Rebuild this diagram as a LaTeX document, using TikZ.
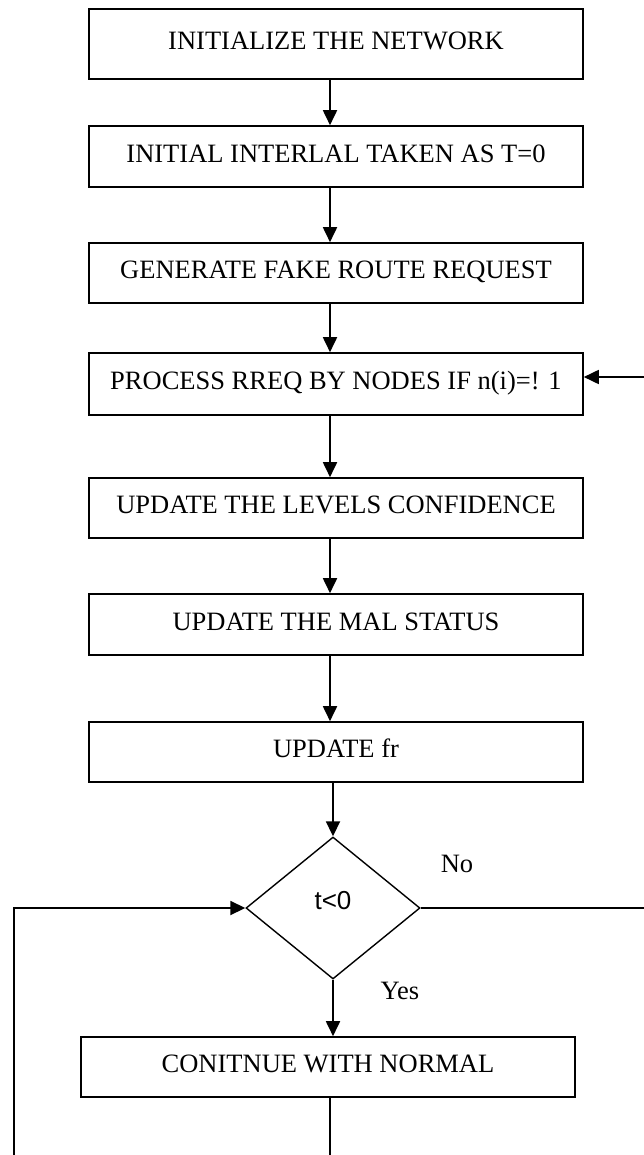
\documentclass[tikz,border=0pt]{standalone}
\usepackage{fontspec}
\setmainfont{Liberation Serif}
\newfontfamily\arialfont{Liberation Sans}
\usetikzlibrary{shapes.geometric,arrows.meta}
\begin{document}
\begin{tikzpicture}[x=1pt,y=-1pt,
  box/.style={draw,line width=1.6pt,minimum width=494pt,minimum height=61pt,inner sep=0pt,
    font=\fontsize{26.5}{30}\selectfont,text height=14pt,text depth=2.5pt},
  dec/.style={draw,diamond,line width=1.4pt,minimum width=174pt,minimum height=142pt,inner sep=0pt,
    aspect=1.225,font=\arialfont\fontsize{26}{30}\selectfont,text height=10pt,text depth=7pt},
  lbl/.style={font=\fontsize{26.5}{30}\selectfont,inner sep=0pt},
  arr/.style={line width=1.8pt,-{Triangle[length=15pt,width=14pt]}},
  ln/.style={line width=1.6pt}]
\useasboundingbox (0,0) rectangle (644,1155);
\fill[white] (0,0) rectangle (644,1155);
\node[box,minimum height=70pt] (b1) at (336,44) {INITIALIZE THE NETWORK};
\node[box] (b2) at (336,156.5) {INITIAL INTERLAL TAKEN AS T=0};
\node[box,minimum height=60pt] (b3) at (336,273) {GENERATE FAKE ROUTE REQUEST};
\node[box,minimum height=62pt] (b4) at (336,384) {PROCESS RREQ BY NODES IF n(i)=! 1};
\node[box,minimum height=60pt] (b5) at (336,508) {UPDATE THE LEVELS CONFIDENCE};
\node[box] (b6) at (336,624.5) {UPDATE THE MAL STATUS};
\node[box,minimum height=60pt] (b7) at (336,752) {UPDATE fr};
\node[dec] (d) at (333,908) {t<0};
\node[box,minimum height=60pt] (b8) at (328,1067) {CONITNUE WITH NORMAL};
\node[lbl] (no) at (457,864) {No};
\node[lbl] (yes) at (400,991) {Yes};
\coordinate (ax) at (330,0);
\coordinate (rin) at (644,377);
\coordinate (rno) at (644,908);
\coordinate (lb) at (14,1155);
\coordinate (lt) at (14,908);
\coordinate (cb) at (330,1155);
\draw[arr] (b1.south -| ax) -- (b2.north -| ax);
\draw[arr] (b2.south -| ax) -- (b3.north -| ax);
\draw[arr] (b3.south -| ax) -- (b4.north -| ax);
\draw[arr] (b4.south -| ax) -- (b5.north -| ax);
\draw[arr] (b5.south -| ax) -- (b6.north -| ax);
\draw[arr] (b6.south -| ax) -- (b7.north -| ax);
\draw[arr] (b7.south -| d.north) -- (d.north);
\draw[arr] (d.south) -- (b8.north -| d.south);
\draw[ln] (d.east) -- (rno);
\draw[arr] (rin) -- (rin -| b4.east);
\draw[ln] (b8.south -| ax) -- (cb);
\draw[arr] (lb) -- (lt) -- (d.west);
\end{tikzpicture}
\end{document}
